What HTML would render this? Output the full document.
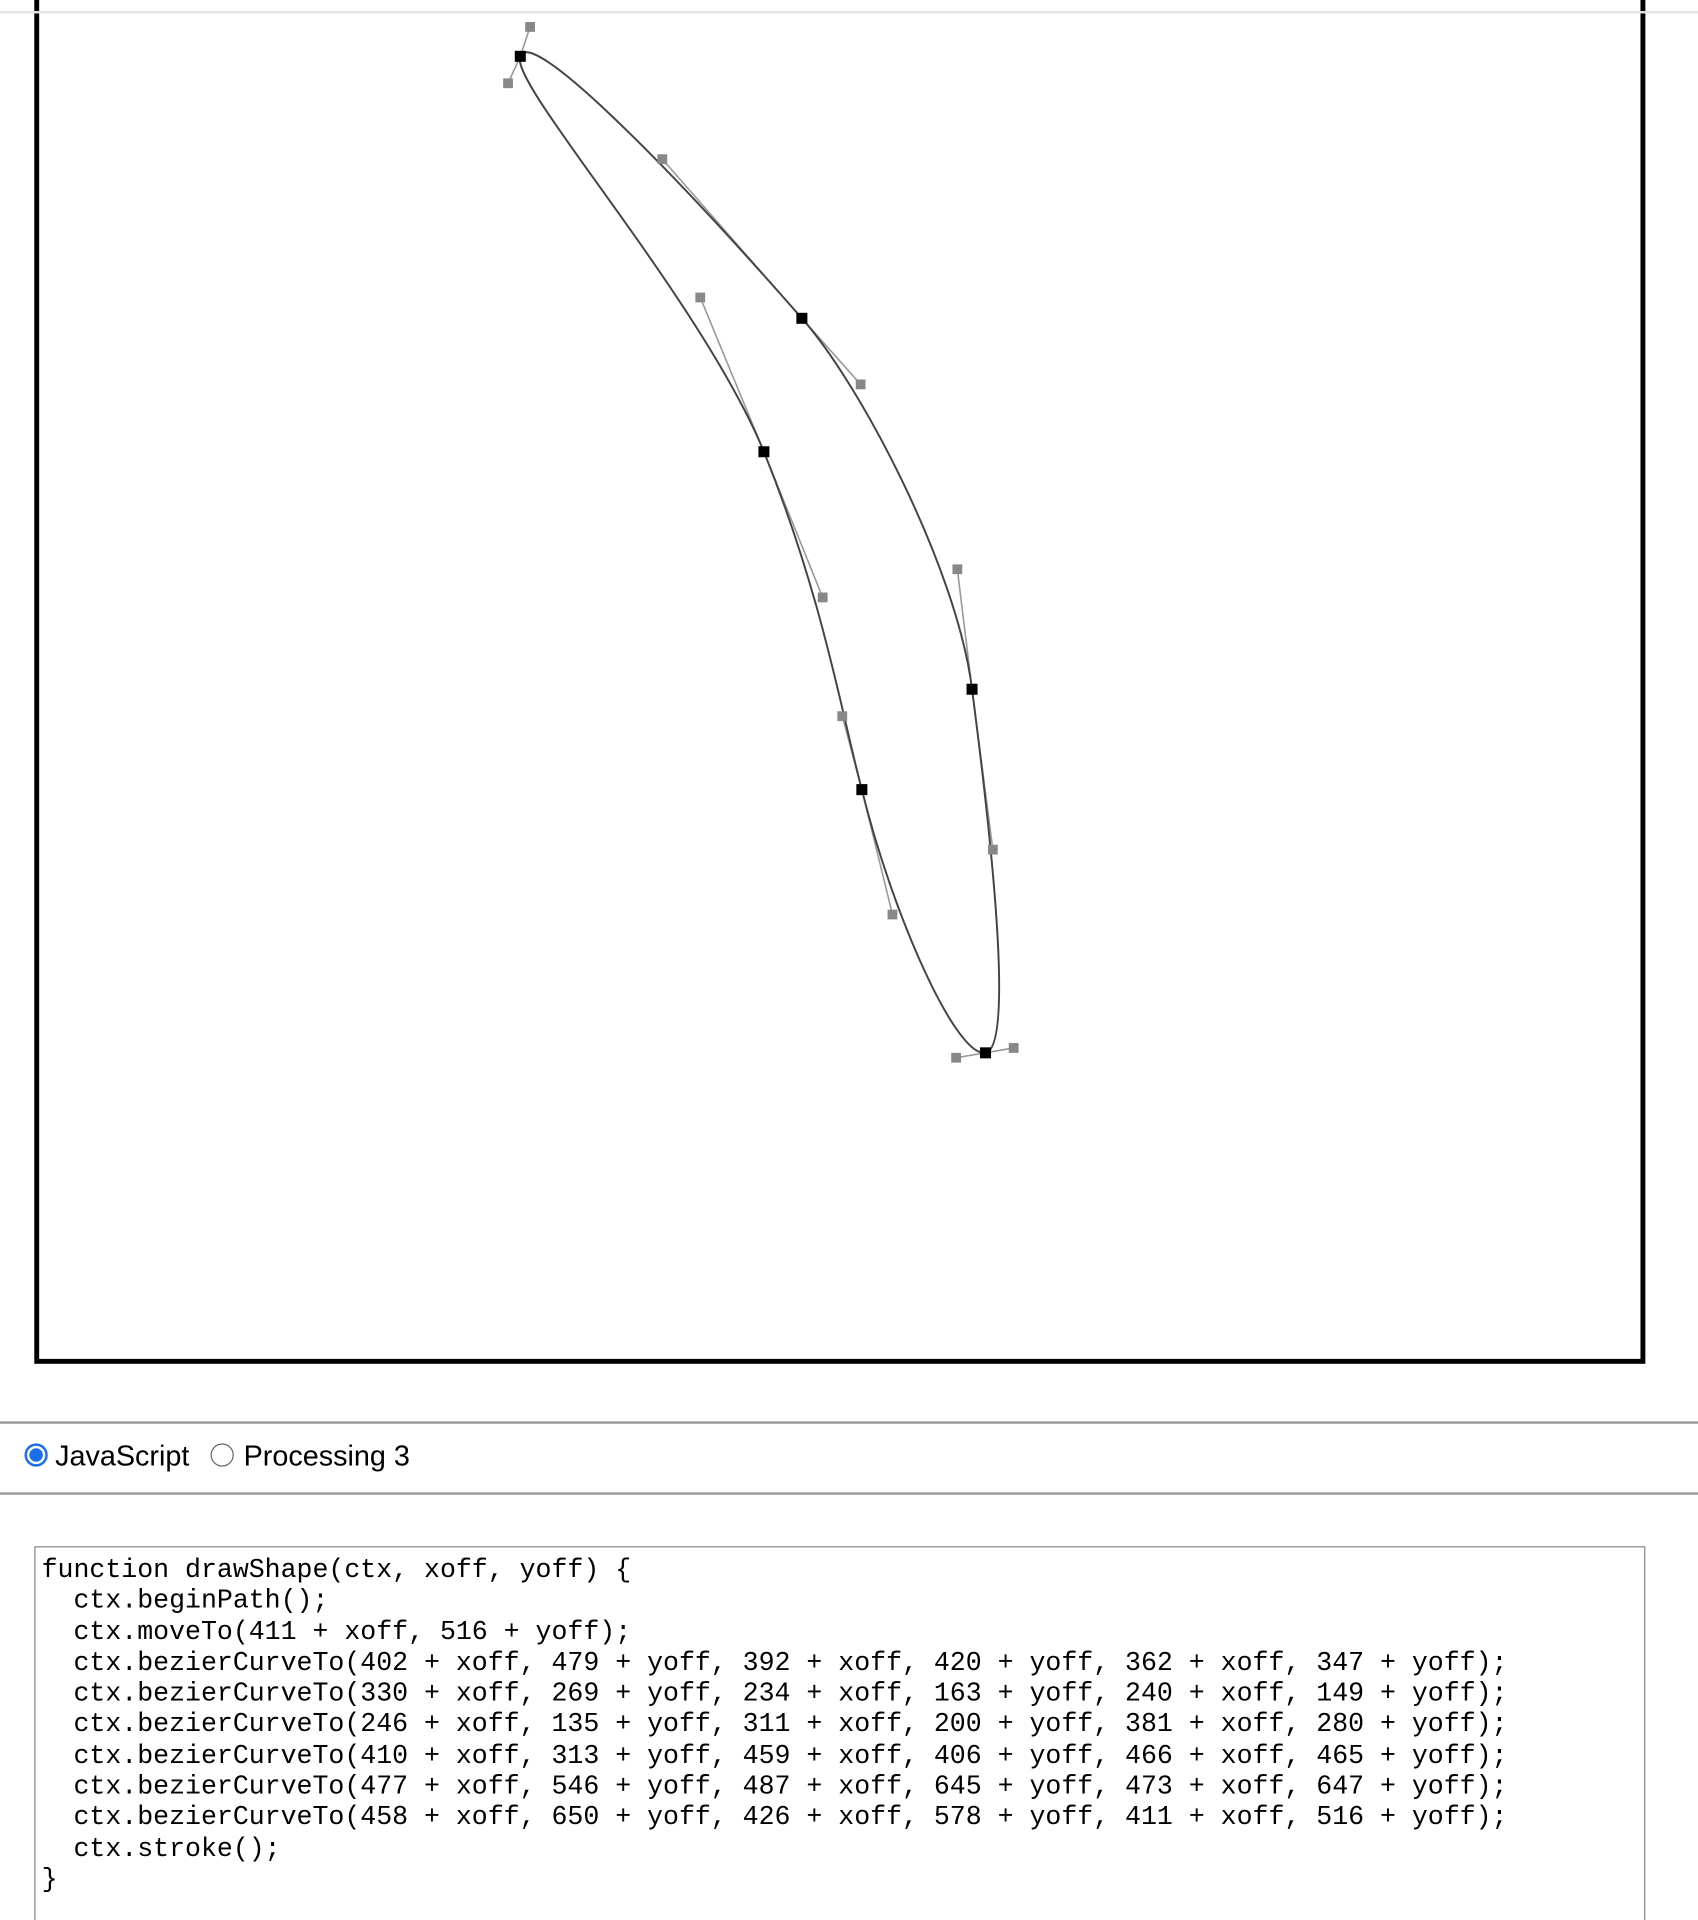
<!DOCTYPE html>
<html><head><meta charset="utf-8">
<style>
html,body{margin:0;padding:0;background:#fff;overflow:hidden;}
body{width:1698px;height:1920px;position:relative;}
#wrap{position:absolute;left:0;top:0;width:1387px;height:1568px;transform:scale(1.22423);transform-origin:0 0;font-family:"Liberation Sans",sans-serif;}
.topline{position:absolute;left:0;top:9px;width:1387px;height:2px;background:#e4e4e4;}
.canvas{position:absolute;left:28px;top:-20px;width:1308px;height:1126px;border:4px solid #000;background:#fff;}
.hr{position:absolute;left:0;width:1387px;height:2px;background:#9a9a9a;}
.radio{position:absolute;width:19px;height:19px;border-radius:50%;box-sizing:border-box;}
.lbl{position:absolute;font-size:23.5px;color:#000;}
.code{position:absolute;left:28px;top:1263px;width:1316px;height:330px;border:1px solid #888;box-sizing:border-box;font-family:"Liberation Mono",monospace;font-size:21.7px;line-height:25.3px;white-space:pre;padding:6px 0 0 5px;color:#000;}
</style></head><body>
<div id="wrap">
<div class="canvas">
<svg id="svg" width="1308" height="1126" viewBox="32 -16 1308 1126" style="position:absolute;left:0;top:0"></svg>
</div>
<div class="topline"></div>
<div class="hr" style="top:1161px"></div>
<div class="radio" style="left:20px;top:1179px;border:2px solid #1a6fe8;background:#fff"><div style="position:absolute;left:2px;top:2px;width:11px;height:11px;border-radius:50%;background:#1a6fe8"></div></div>
<div class="lbl" style="left:45px;top:1176px">JavaScript</div>
<div class="radio" style="left:172px;top:1179px;border:1px solid #666;background:#fff"></div>
<div class="lbl" style="left:199px;top:1176px">Processing 3</div>
<div class="hr" style="top:1219px"></div>
<div class="code">function drawShape(ctx, xoff, yoff) {
  ctx.beginPath();
  ctx.moveTo(411 + xoff, 516 + yoff);
  ctx.bezierCurveTo(402 + xoff, 479 + yoff, 392 + xoff, 420 + yoff, 362 + xoff, 347 + yoff);
  ctx.bezierCurveTo(330 + xoff, 269 + yoff, 234 + xoff, 163 + yoff, 240 + xoff, 149 + yoff);
  ctx.bezierCurveTo(246 + xoff, 135 + yoff, 311 + xoff, 200 + yoff, 381 + xoff, 280 + yoff);
  ctx.bezierCurveTo(410 + xoff, 313 + yoff, 459 + xoff, 406 + yoff, 466 + xoff, 465 + yoff);
  ctx.bezierCurveTo(477 + xoff, 546 + yoff, 487 + xoff, 645 + yoff, 473 + xoff, 647 + yoff);
  ctx.bezierCurveTo(458 + xoff, 650 + yoff, 426 + xoff, 578 + yoff, 411 + xoff, 516 + yoff);
  ctx.stroke();
}</div>
</div>
<script>
const anchorsX=[425,655,794,805,704,624];
const anchorsY=[46,260,563,860,645,369];
const ctrlOutX=[433,703,811,781,688,572];
const ctrlOutY=[22,314,694,864,585,243];
const ctrlInX=[415,541,782,828,729,672];
const ctrlInY=[68,130,465,856,747,488];
const NS='http://www.w3.org/2000/svg';
const svg=document.getElementById('svg');
function mk(t,a){const e=document.createElementNS(NS,t);for(const k in a)e.setAttribute(k,a[k]);svg.appendChild(e);return e;}
const n=anchorsX.length;
let d='M'+anchorsX[0]+' '+anchorsY[0];
for(let i=0;i<n;i++){const j=(i+1)%n;d+=' C'+ctrlOutX[i]+' '+ctrlOutY[i]+' '+ctrlInX[j]+' '+ctrlInY[j]+' '+anchorsX[j]+' '+anchorsY[j];}
for(let i=0;i<n;i++){
 const l1=mk('line',{x1:anchorsX[i],y1:anchorsY[i],x2:ctrlOutX[i],y2:ctrlOutY[i],stroke:'#999','stroke-width':1.3});
 
 
 const l2=mk('line',{x1:anchorsX[i],y1:anchorsY[i],x2:ctrlInX[i],y2:ctrlInY[i],stroke:'#999','stroke-width':1.3});
 
 
}
const p=mk('path',{d:d,fill:'none',stroke:'#444','stroke-width':1.6});


for(let i=0;i<n;i++){
 const c1=mk('rect',{x:ctrlOutX[i]-4,y:ctrlOutY[i]-4,width:8,height:8,fill:'#888'});
 
 
 const c2=mk('rect',{x:ctrlInX[i]-4,y:ctrlInY[i]-4,width:8,height:8,fill:'#888'});
 
 
 const a=mk('rect',{x:anchorsX[i]-4.5,y:anchorsY[i]-4.5,width:9,height:9,fill:'#000'});
 
 
}
</script>
</body></html>
